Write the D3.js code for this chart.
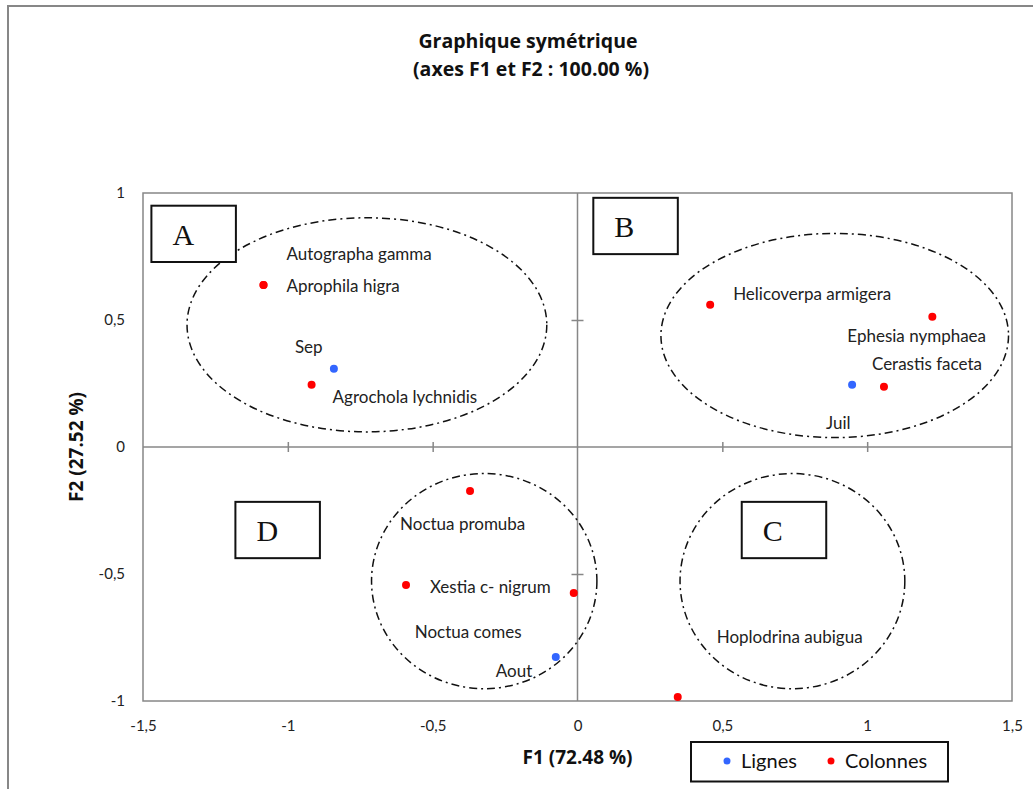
<!DOCTYPE html>
<html>
<head>
<meta charset="utf-8">
<script src="https://cdn.jsdelivr.net/npm/d3@7/dist/d3.min.js"></script>
<style>
    body { margin: 0; background: #fff; }
    .pointLabel { font-family: Lato, "Open Sans", sans-serif; font-size: 17px; fill: #222; }
    .tickText text { font-family: Lato, "Open Sans", sans-serif; font-size: 15px; fill: #222; }
    .axisTitle { font-family: "Open Sans", Lato, sans-serif; font-size: 19px; font-weight: bold; fill: #111; }
    .chartTitle { font-family: "Open Sans", Lato, sans-serif; font-size: 19.5px; font-weight: bold; fill: #111; }
    .zoneLetter { font-family: "Liberation Serif", "DejaVu Serif", serif; font-size: 30px; fill: #111; }
    .legendText { font-family: Lato, "Open Sans", sans-serif; font-size: 20px; fill: #111; }
</style>
</head>
<body>
<div id="chart"></div>
<script>

// Rows (months) and columns (species) of the CA, coordinates on F1 / F2
var rowNames = ["Sep", "Juil", "Aout"];
var rowF1 = [-0.841, 0.948, -0.075];
var rowF2 = [0.308, 0.245, -0.827];

var colNames = ["Autographa gamma", "Aprophila higra", "Agrochola lychnidis", "Helicoverpa armigera",
    "Ephesia nymphaea", "Cerastis faceta", "Noctua promuba", "Xestia c- nigrum",
    "Noctua comes", "Hoplodrina aubigua"];
var colF1 = [-1.084, -1.084, -0.918, 0.458, 1.225, 1.058, -0.371, -0.592, -0.013, 0.346];
var colF2 = [0.638, 0.638, 0.245, 0.560, 0.513, 0.237, -0.173, -0.543, -0.575, -0.984];

var xTicks = [-1.5, -1, -0.5, 0, 0.5, 1, 1.5];
var yTicks = [-1, -0.5, 0, 0.5, 1];

// groups drawn by hand on the chart
var zoneNames = ["A", "B", "C", "D"];
var zoneF1 = [-0.727, 0.888, 0.742, -0.322];
var zoneF2 = [0.481, 0.439, -0.528, -0.528];
var zoneR1 = [0.621, 0.600, 0.388, 0.389];
var zoneR2 = [0.4215, 0.402, 0.4235, 0.4235];
var zoneBoxF1 = [-1.471, 0.0546, 0.567, -1.181];
var zoneBoxF2 = [0.950, 0.981, -0.216, -0.216];

var legendNames = ["Lignes", "Colonnes"];

// label offsets (px) from each point, set by hand like in the original
var rowLabelOffset = [[-39, -16], [-26, 44], [-60, 20]];
var colLabelOffset = [[23, -25], [23, 7], [21, 18], [23, -5], [-85, 25], [-12, -17],
    [-70, 39], [24, 8], [-159, 45], [39, -54]];

var blue = "#3366ff";
var red = "#ff0000";
var grey = "#878787";

var width = 1033, height = 789;
var margin = {top: 193, right: 21, bottom: 88, left: 143};

var svg = d3.select("#chart").append("svg")
    .attr("width", width)
    .attr("height", height);

// outer frame (cut by the picture on the right and bottom)
svg.append("rect")
    .attr("x", 8)
    .attr("y", 6)
    .attr("width", width + 20)
    .attr("height", height + 20)
    .attr("fill", "none")
    .attr("stroke", grey)
    .attr("stroke-width", 2);

var x = d3.scaleLinear()
    .domain([-1.5, 1.5])
    .range([margin.left, width - margin.right]);

var y = d3.scaleLinear()
    .domain([-1, 1])
    .range([height - margin.bottom, margin.top]);

var fr = d3.formatLocale({decimal: ",", thousands: " ", grouping: [3], currency: ["", ""], minus: "-"});
var fmt = fr.format("~g");

// title
svg.append("text")
    .attr("class", "chartTitle")
    .attr("x", 528)
    .attr("y", 48)
    .attr("text-anchor", "middle")
    .text("Graphique symétrique");

svg.append("text")
    .attr("class", "chartTitle")
    .attr("x", 531)
    .attr("y", 76)
    .attr("text-anchor", "middle")
    .text("(axes F1 et F2 : 100.00 %)");

// plot area border
svg.append("rect")
    .attr("x", x(-1.5))
    .attr("y", y(1))
    .attr("width", x(1.5) - x(-1.5))
    .attr("height", y(-1) - y(1))
    .attr("fill", "none")
    .attr("stroke", grey)
    .attr("stroke-width", 1.5);

// zero lines
svg.append("line")
    .attr("x1", x(-1.5)).attr("x2", x(1.5))
    .attr("y1", y(0)).attr("y2", y(0))
    .attr("stroke", grey).attr("stroke-width", 1.5);

svg.append("line")
    .attr("x1", x(0)).attr("x2", x(0))
    .attr("y1", y(-1)).attr("y2", y(1))
    .attr("stroke", grey).attr("stroke-width", 1.5);

// cross ticks on the zero lines
var xCross = svg.append("g")
    .attr("transform", "translate(0," + (y(0) + 5) + ")")
    .call(d3.axisTop(x).tickValues([-1, -0.5, 0.5, 1]).tickSize(10).tickFormat(""));
xCross.select(".domain").remove();
xCross.selectAll("line").attr("stroke", grey).attr("stroke-width", 1.5);

var yCross = svg.append("g")
    .attr("transform", "translate(" + (x(0) + 6) + ",0)")
    .call(d3.axisLeft(y).tickValues([-0.5, 0.5]).tickSize(12).tickFormat(""));
yCross.select(".domain").remove();
yCross.selectAll("line").attr("stroke", grey).attr("stroke-width", 1.5);

// tick labels around the plot
var xLab = svg.append("g")
    .attr("class", "tickText")
    .attr("transform", "translate(0," + y(-1) + ")")
    .call(d3.axisBottom(x).tickValues(xTicks).tickSize(0).tickPadding(19).tickFormat(fmt));
xLab.select(".domain").remove();
xLab.selectAll("text").attr("font-family", null).attr("font-size", null);

var yLab = svg.append("g")
    .attr("class", "tickText")
    .attr("transform", "translate(" + x(-1.5) + ",0)")
    .call(d3.axisLeft(y).tickValues(yTicks).tickSize(0).tickPadding(18).tickFormat(fmt));
yLab.select(".domain").remove();
yLab.selectAll("text").attr("font-family", null).attr("font-size", null);

// axis titles
svg.append("text")
    .attr("class", "axisTitle")
    .attr("x", x(0))
    .attr("y", 764)
    .attr("text-anchor", "middle")
    .text("F1 (72.48 %)");

svg.append("text")
    .attr("class", "axisTitle")
    .attr("transform", "translate(83," + y(0) + ") rotate(-90)")
    .attr("text-anchor", "middle")
    .text("F2 (27.52 %)");

// dash-dot ellipses around the groups
svg.selectAll(".zone")
    .data(zoneNames)
    .enter()
    .append("ellipse")
    .attr("class", "zone")
    .attr("cx", function(d, i){ return x(zoneF1[i]); })
    .attr("cy", function(d, i){ return y(zoneF2[i]); })
    .attr("rx", function(d, i){ return x(zoneR1[i]) - x(0); })
    .attr("ry", function(d, i){ return y(0) - y(zoneR2[i]); })
    .attr("fill", "none")
    .attr("stroke", "#111")
    .attr("stroke-width", 1.5)
    .attr("stroke-dasharray", "8,4,2,4");

// letter boxes
var boxes = svg.selectAll(".zoneBox")
    .data(zoneNames)
    .enter()
    .append("g")
    .attr("class", "zoneBox")
    .attr("transform", function(d, i){
        return "translate(" + x(zoneBoxF1[i]) + "," + y(zoneBoxF2[i]) + ")";
    });

boxes.append("rect")
    .attr("width", 84.5)
    .attr("height", 56.3)
    .attr("fill", "#fff")
    .attr("stroke", "#111")
    .attr("stroke-width", 2);

boxes.append("text")
    .attr("class", "zoneLetter")
    .attr("x", 21)
    .attr("y", 39)
    .text(function(d){ return d; });

// points
svg.selectAll(".colPoint")
    .data(colNames)
    .enter()
    .append("circle")
    .attr("class", "colPoint")
    .attr("cx", function(d, i){ return x(colF1[i]); })
    .attr("cy", function(d, i){ return y(colF2[i]); })
    .attr("r", 4)
    .attr("fill", red);

svg.selectAll(".rowPoint")
    .data(rowNames)
    .enter()
    .append("circle")
    .attr("class", "rowPoint")
    .attr("cx", function(d, i){ return x(rowF1[i]); })
    .attr("cy", function(d, i){ return y(rowF2[i]); })
    .attr("r", 4)
    .attr("fill", blue);

// labels
svg.selectAll(".colLabel")
    .data(colNames)
    .enter()
    .append("text")
    .attr("class", "pointLabel colLabel")
    .attr("x", function(d, i){ return x(colF1[i]) + colLabelOffset[i][0]; })
    .attr("y", function(d, i){ return y(colF2[i]) + colLabelOffset[i][1]; })
    .text(function(d){ return d; });

svg.selectAll(".rowLabel")
    .data(rowNames)
    .enter()
    .append("text")
    .attr("class", "pointLabel rowLabel")
    .attr("x", function(d, i){ return x(rowF1[i]) + rowLabelOffset[i][0]; })
    .attr("y", function(d, i){ return y(rowF2[i]) + rowLabelOffset[i][1]; })
    .text(function(d){ return d; });

// legend
var legend = svg.append("g")
    .attr("transform", "translate(691,742)");

legend.append("rect")
    .attr("width", 257)
    .attr("height", 39.5)
    .attr("fill", "#fff")
    .attr("stroke", "#111")
    .attr("stroke-width", 2);

var legendItem = legend.selectAll(".legendItem")
    .data(legendNames)
    .enter()
    .append("g")
    .attr("class", "legendItem")
    .attr("transform", function(d, i){ return "translate(" + (36 + i * 104) + ",19)"; });

legendItem.append("circle")
    .attr("r", 3.5)
    .attr("fill", function(d, i){ return i == 0 ? blue : red; });

legendItem.append("text")
    .attr("class", "legendText")
    .attr("x", 14)
    .attr("y", 7)
    .text(function(d){ return d; });

</script>
</body>
</html>
